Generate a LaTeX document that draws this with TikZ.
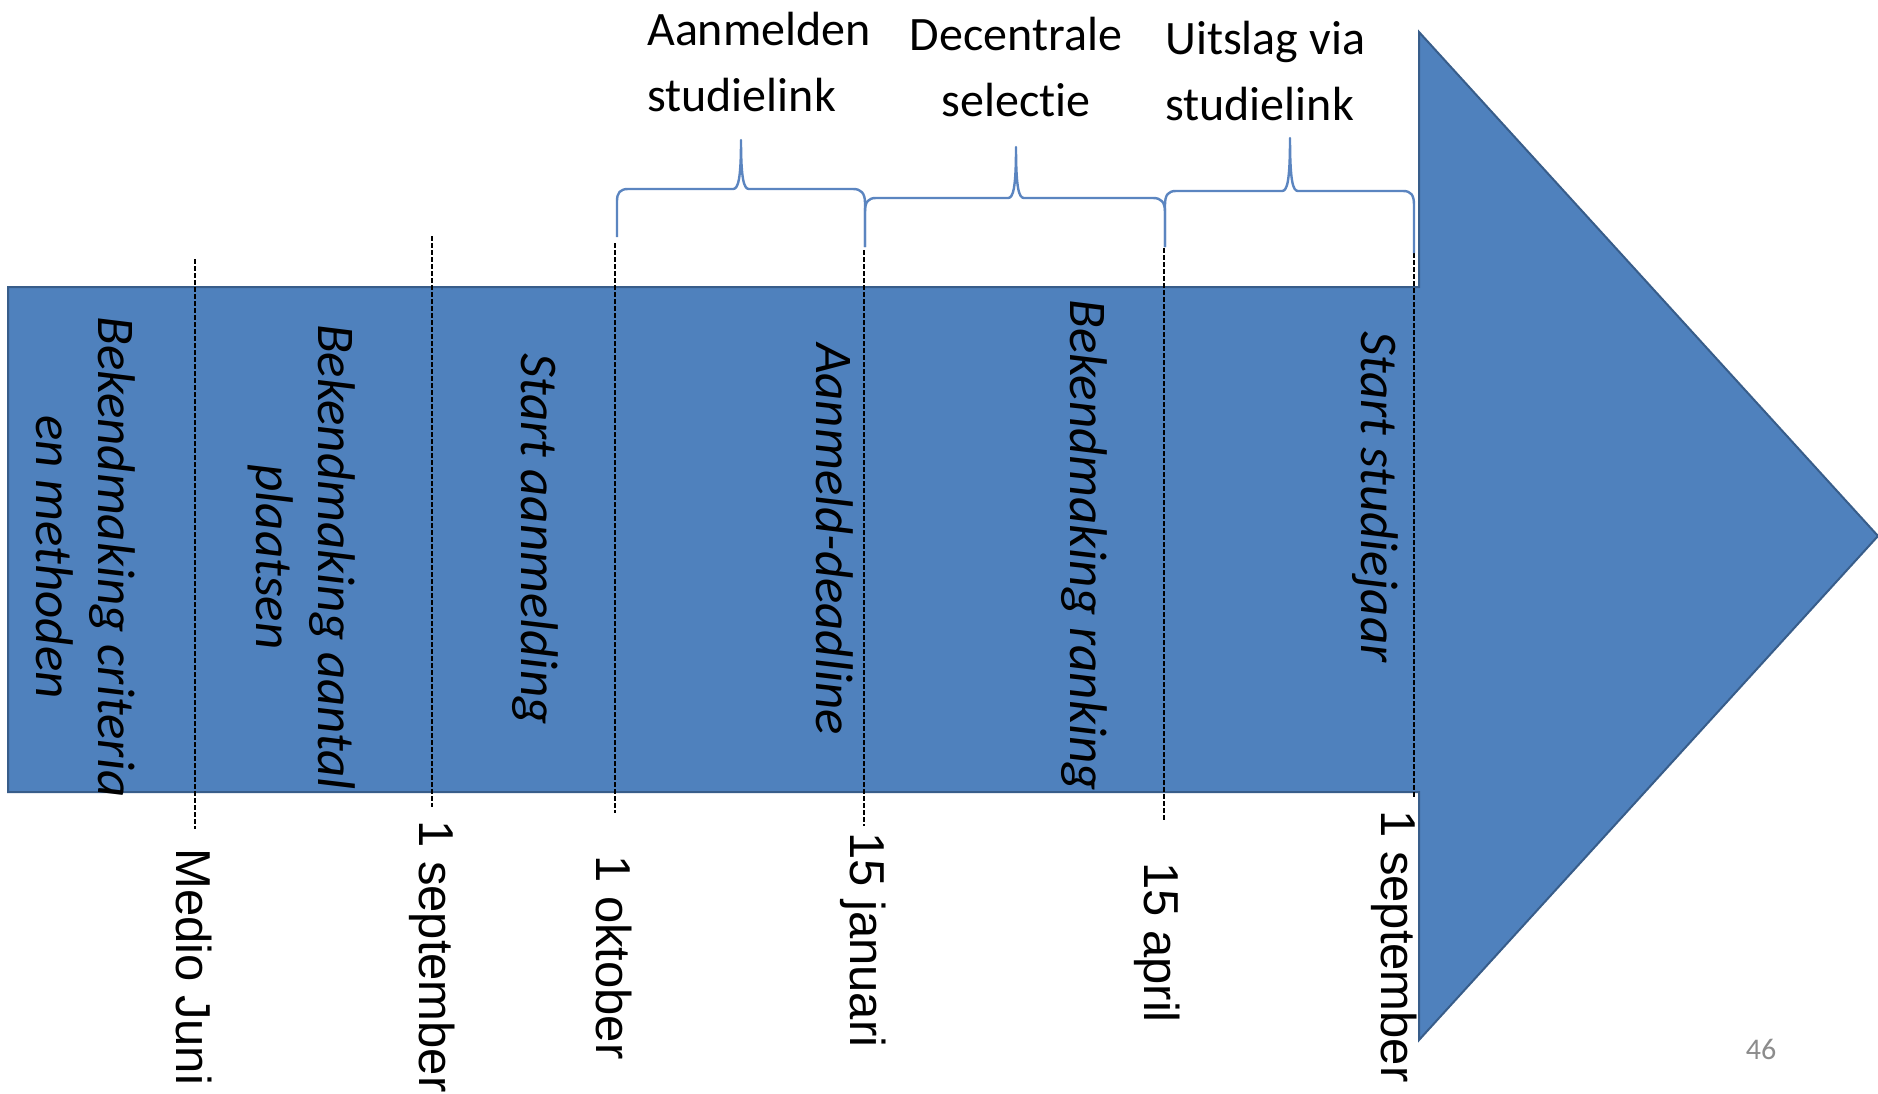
\documentclass[tikz,border=0pt]{standalone}
\usepackage{fontspec}
\setmainfont[Ligatures=NoCommon]{Carlito}
\newfontfamily\labelfont{Liberation Sans}
\definecolor{arrowfill}{HTML}{4F81BD}
\definecolor{arrowedge}{HTML}{385D8A}
\definecolor{bracecol}{HTML}{5B85C0}
\definecolor{pagenum}{HTML}{8C8C8C}
\begin{document}
\begin{tikzpicture}[x=1pt,y=-1pt,
  bigarrow/.style={fill=arrowfill,draw=arrowedge,line width=2pt,line join=miter},
  tick/.style={draw=black,line width=1.9pt,dash pattern=on 4.5pt off 2.5pt},
  bracepath/.style={draw=bracecol,line width=2.4pt,line join=round},
  event/.style={rotate=-90,inner sep=0pt,font=\fontsize{53}{62}\selectfont\itshape,text=black},
  datelabel/.style={rotate=-90,anchor=west,inner sep=0pt,font=\labelfont\fontsize{49}{58}\selectfont},
  phase/.style={inner sep=0pt,font=\fontsize{48}{66}\selectfont}]
\useasboundingbox (0,0) rectangle (1878,1093);
\fill[white] (0,0) rectangle (1878,1093);

% big arrow
\draw[bigarrow] (8,287) -- (1419,287) -- (1419,32) -- (1878,536) -- (1419,1040) -- (1419,792) -- (8,792) -- cycle;

% dashed markers
\coordinate (t1) at (195,259); \coordinate (b1) at (195,829);
\coordinate (t2) at (432,236); \coordinate (b2) at (432,807);
\coordinate (t3) at (615,243); \coordinate (b3) at (615,813);
\coordinate (t4) at (864,250); \coordinate (b4) at (864,826);
\coordinate (t5) at (1164,248); \coordinate (b5) at (1164,820);
\coordinate (t6) at (1414,253); \coordinate (b6) at (1414,797);
\foreach \i in {1,...,6} \draw[tick] (t\i) -- (b\i);

% braces
\draw[bracepath] (617,237) -- (617,201) .. controls (617,193) and (620,189) .. (628,189)
  -- (733,189) .. controls (738,189) and (741,180) .. (741,140)
  .. controls (741,180) and (744,189) .. (749,189) -- (853,189)
  .. controls (861,189) and (865,193) .. (865,203) -- (865,247);
\draw[bracepath] (865,247) -- (865,212) .. controls (865,202) and (868,198) .. (876,198)
  -- (1008,198) .. controls (1013,198) and (1016,189) .. (1016,147)
  .. controls (1016,189) and (1019,198) .. (1024,198) -- (1153,198)
  .. controls (1161,198) and (1165,202) .. (1165,212) -- (1165,247);
\draw[bracepath] (1165,247) -- (1165,205) .. controls (1165,195) and (1168,191) .. (1176,191)
  -- (1282,191) .. controls (1287,191) and (1290,182) .. (1290,138)
  .. controls (1290,182) and (1293,191) .. (1298,191) -- (1403,191)
  .. controls (1411,191) and (1414,195) .. (1414,205) -- (1414,253);

% phase labels
\node[phase,anchor=base west] (p1) at (647,45) {\begin{tabular}[t]{@{}l@{}}Aanmelden\\studielink\end{tabular}};
\node[phase,anchor=base] (p2) at (1016,50) {\begin{tabular}[t]{@{}c@{}}Decentrale\\selectie\end{tabular}};
\node[phase,anchor=base west] (p3) at (1165,54) {\begin{tabular}[t]{@{}l@{}}Uitslag via\\studielink\end{tabular}};

% events inside the arrow
\node[event] (e1) at (80,557) {\begin{tabular}{@{}c@{}}Bekendmaking criteria\\en methoden\end{tabular}};
\node[event] (e2) at (300,557) {\begin{tabular}{@{}c@{}}Bekendmaking aantal\\plaatsen\end{tabular}};
\node[event] (e3) at (535,539) {Start aanmelding};
\node[event] (e4) at (835,539) {Aanmeld-deadline};
\node[event] (e5) at (1084,545) {Bekendmaking ranking};
\node[event] (e6) at (1375,497) {Start studiejaar};

% date labels
\node[datelabel] (d1) at (194,848) {Medio Juni};
\node[datelabel] (d2) at (432,820) {1 september};
\node[datelabel] (d3) at (614,855) {1 oktober};
\node[datelabel] (d4) at (863,832) {15 januari};
\node[datelabel] (d5) at (1157,862) {15 april};
\node[datelabel] (d6) at (1394,810) {1 september};

% page number
\node[inner sep=0pt,text=pagenum,font=\fontsize{30}{34}\selectfont] (pn) at (1761,1049) {46};
\end{tikzpicture}
\end{document}
